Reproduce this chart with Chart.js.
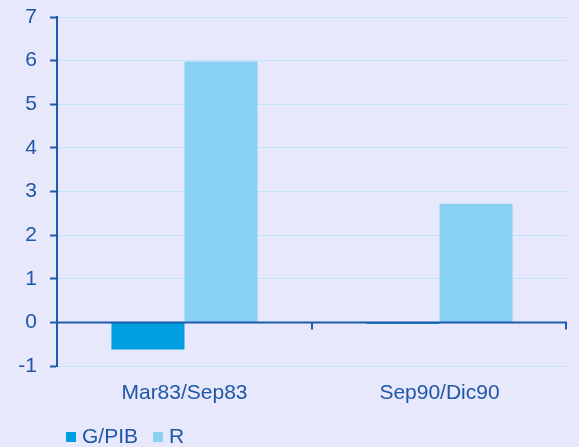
<!DOCTYPE html>
<html>
<head>
<meta charset="utf-8">
<script src="https://cdn.jsdelivr.net/npm/chart.js@4.4.1/dist/chart.umd.min.js"></script>
<style>
  html, body { margin: 0; padding: 0; background: #e8e8fc; }
  #wrap { width: 579px; height: 447px; }
</style>
</head>
<body>
<div id="wrap"><canvas id="myChart" width="579" height="447"></canvas></div>
<script>
var categories = ['Mar83/Sep83', 'Sep90/Dic90'];
var gPib = [-0.62, -0.04];
var rValues = [5.98, 2.72];
var yTicks = [-1, 0, 1, 2, 3, 4, 5, 6, 7];

var axisColor = '#1d5aae';
var textColor = '#1f56a6';
var gridColor = '#bde6f8';
var fontFamily = '"Liberation Sans", Arial, sans-serif';

// zero line and category ticks on top of the bars
var zeroAxis = {
    id: 'zeroAxis',
    afterDatasetsDraw: function (chart) {
        var ctx = chart.ctx;
        var x = chart.scales.x, y = chart.scales.y;
        var y0 = y.getPixelForValue(0);
        ctx.save();
        ctx.strokeStyle = axisColor;
        ctx.lineWidth = 2;
        ctx.beginPath();
        ctx.moveTo(x.left, y0);
        ctx.lineTo(x.right, y0);
        var step = (x.right - x.left) / categories.length;
        for (var i = 1; i <= categories.length; i++) {
            var px = x.left + step * i;
            if (i == categories.length) px -= 1;
            ctx.moveTo(px, y0);
            ctx.lineTo(px, y0 + 7);
        }
        ctx.stroke();
        ctx.restore();
    }
};

// legend at bottom left
var bottomLegend = {
    id: 'bottomLegend',
    afterDraw: function (chart) {
        var ctx = chart.ctx;
        ctx.save();
        ctx.font = '21px ' + fontFamily;
        ctx.textBaseline = 'middle';
        var x0 = 66, yc = 437;
        chart.data.datasets.forEach(function (ds) {
            ctx.fillStyle = ds.backgroundColor;
            ctx.fillRect(x0, yc - 5, 10, 10);
            ctx.fillStyle = textColor;
            ctx.fillText(ds.label, x0 + 16, yc);
            x0 += 16 + ctx.measureText(ds.label).width + 15;
        });
        ctx.restore();
    }
};

var bg = {
    id: 'bg',
    beforeDraw: function (chart) {
        var ctx = chart.ctx;
        ctx.save();
        ctx.fillStyle = '#e8e8fc';
        ctx.fillRect(0, 0, chart.width, chart.height);
        ctx.restore();
    }
};

new Chart(document.getElementById('myChart'), {
    type: 'bar',
    data: {
        labels: categories,
        datasets: [
            { label: 'G/PIB', data: gPib, backgroundColor: '#009fe1', borderWidth: 0 },
            { label: 'R', data: rValues, backgroundColor: '#89d1f2', borderWidth: 0 }
        ]
    },
    options: {
        responsive: false,
        animation: false,
        devicePixelRatio: 1,
        layout: { padding: { top: 17, right: 12, left: 0, bottom: 0 } },
        datasets: { bar: { categoryPercentage: 0.573, barPercentage: 1 } },
        plugins: {
            legend: { display: false },
            tooltip: { enabled: false }
        },
        scales: {
            x: {
                grid: { display: false, drawTicks: false },
                border: { display: false },
                ticks: { color: textColor, font: { family: fontFamily, size: 21 }, padding: 15 },
                afterFit: function (scale) { scale.height = 81; }
            },
            y: {
                min: -1,
                max: 7,
                afterBuildTicks: function (scale) {
                    scale.ticks = yTicks.map(function (v) { return { value: v }; });
                },
                grid: {
                    color: function (c) { return c.tick && c.tick.value === 0 ? 'rgba(0,0,0,0)' : gridColor; },
                    lineWidth: 1,
                    tickColor: axisColor,
                    tickLength: 7,
                    tickWidth: 2
                },
                border: { color: axisColor, width: 2 },
                ticks: { color: textColor, font: { family: fontFamily, size: 21 }, padding: 13 },
                afterFit: function (scale) {
                    scale.width = 57;
                    scale.paddingTop = 0;
                    scale.paddingBottom = 0;
                }
            }
        }
    },
    plugins: [bg, zeroAxis, bottomLegend]
});
</script>
</body>
</html>
